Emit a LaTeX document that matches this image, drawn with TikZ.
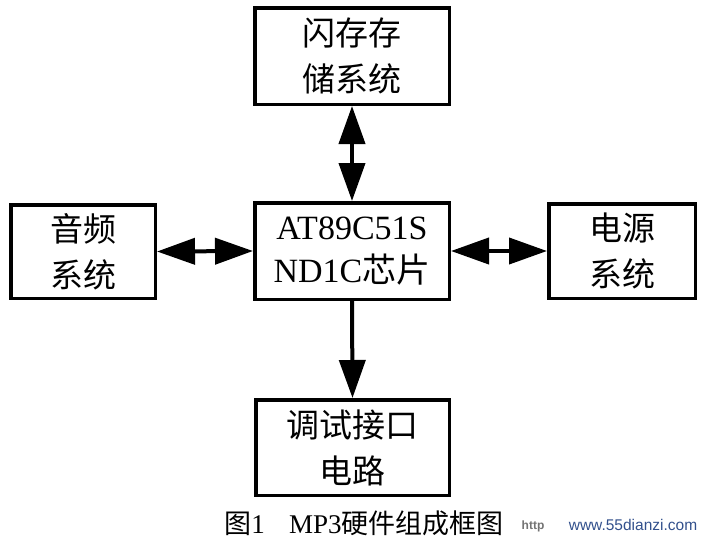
\documentclass[tikz,border=0pt]{standalone}
\usepackage{fontspec}
\setmainfont{Liberation Serif}
\newfontfamily\cjk{Noto Sans CJK SC}
\newfontfamily\wmfont{Liberation Sans}
\usetikzlibrary{arrows.meta}
\newcommand{\zh}[1]{{\cjk #1}}
\begin{document}
\begin{tikzpicture}[x=1pt,y=-1pt]
\useasboundingbox (0,0) rectangle (704,547);
\tikzset{
  blk/.style={draw, line width=3.5pt, inner sep=0pt, align=center,
    font=\fontsize{33}{46}\selectfont},
  biarrow/.style={line width=4pt,
    {Triangle[length=38pt 0,width=26pt 0]}-{Triangle[length=38pt 0,width=26pt 0]}},
  onearrow/.style={line width=4pt, -{Triangle[length=38pt 0,width=26pt 0]}}
}
\node[blk, minimum width=194.5pt, minimum height=96.5pt] (flash) at (352,56) {\zh{闪存存}\\\zh{储系统}};
\node[blk, minimum width=194.5pt, minimum height=96.5pt, font=\fontsize{34}{43}\selectfont] (chip) at (352,251) {AT89C51S\\ND1C\zh{芯片}};
\node[blk, minimum width=144.5pt, minimum height=93.5pt] (audio) at (83,251.5) {\zh{音频}\\\zh{系统}};
\node[blk, minimum width=146.5pt, minimum height=94.5pt] (power) at (622,251) {\zh{电源}\\\zh{系统}};
\node[blk, minimum width=193.5pt, minimum height=95.5pt] (debug) at (352.5,447.5) {\zh{调试接口}\\\zh{电路}};
\draw[biarrow] (flash.south) -- (chip.north);
\draw[biarrow] (audio.east) -- (chip.west);
\draw[biarrow] (chip.east) -- (power.west);
\draw[onearrow] (chip.south) -- (debug.north);
\node[font=\fontsize{27}{30}\selectfont] (cap) at (364,523) {\zh{图}1\hspace{0.9em}MP3\zh{硬件组成框图}};
\node[font=\wmfont\bfseries\fontsize{12}{14}\selectfont, text=black!55] (wm1) at (533,526) {http};
\node[font=\wmfont\fontsize{15.5}{18}\selectfont, text={rgb,255:red,50;green,80;blue,140}] (wm2) at (633,525) {www.55dianzi.com};
\end{tikzpicture}
\end{document}
